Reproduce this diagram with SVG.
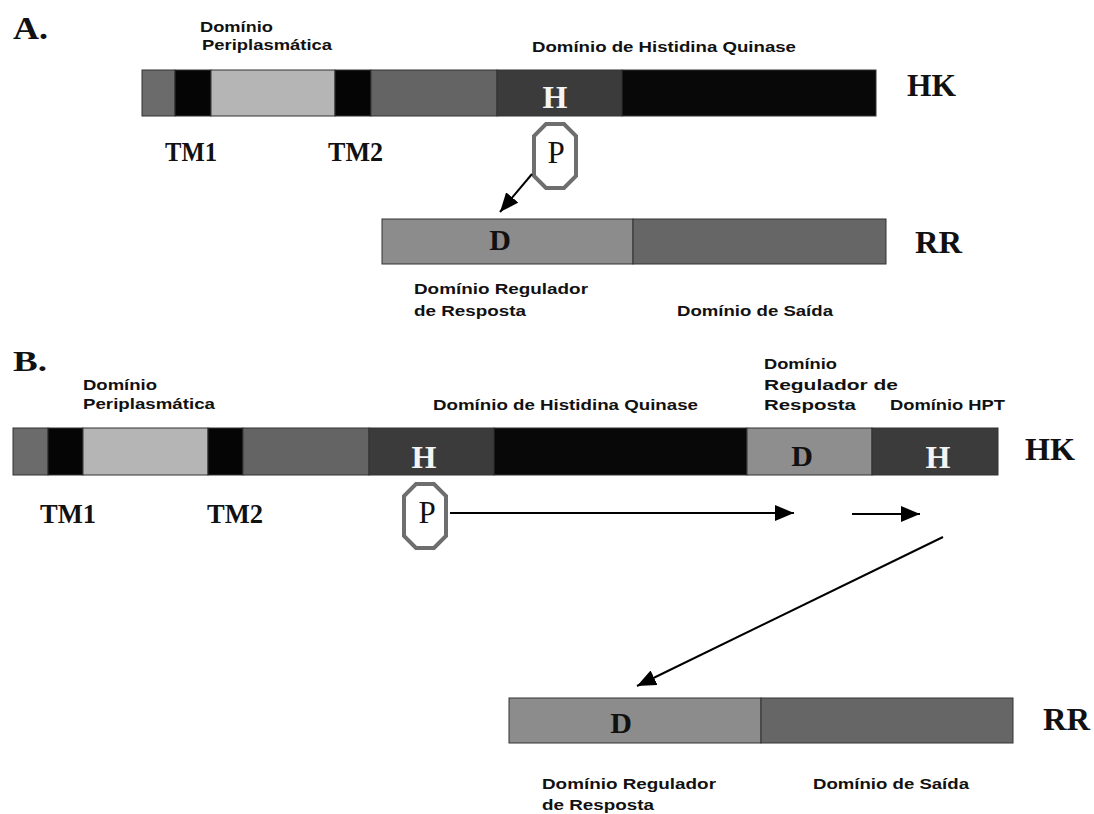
<svg xmlns="http://www.w3.org/2000/svg" width="1094" height="814" viewBox="0 0 1094 814">
<defs>
<style>
.s{font-family:"Liberation Sans",Arial,sans-serif;font-weight:bold;font-size:15.5px;fill:#111}
.t{font-family:"Liberation Serif","Times New Roman",serif;font-weight:bold;fill:#111}
.seg{stroke:#333;stroke-width:1}
.oct{fill:#fff;stroke:#6e6e6e;stroke-width:4;stroke-linejoin:miter}
.con{stroke:#000;stroke-width:2;fill:none;marker-end:url(#ah)}
</style>
<marker id="ah" viewBox="0 0 10 10" refX="10" refY="5" markerWidth="19" markerHeight="16" markerUnits="userSpaceOnUse" orient="auto" preserveAspectRatio="none">
<path d="M0,0 L10,5 L0,10 z" fill="#000"/>
</marker>
</defs>
<rect width="1094" height="814" fill="#fff"/>

<!-- Panel A -->
<text class="t" x="13" y="39" font-size="32" textLength="35" lengthAdjust="spacingAndGlyphs">A.</text>
<text class="s" x="200" y="32" textLength="73" lengthAdjust="spacingAndGlyphs">Domínio</text>
<text class="s" x="202" y="50" textLength="130" lengthAdjust="spacingAndGlyphs">Periplasmática</text>
<text class="s" x="532" y="52" textLength="264" lengthAdjust="spacingAndGlyphs">Domínio de Histidina Quinase</text>

<g id="hkA">
<rect class="seg" x="142" y="70" width="33" height="46" fill="#6b6b6b"/>
<rect class="seg" x="175" y="70" width="36" height="46" fill="#050505"/>
<rect class="seg" x="211" y="70" width="124" height="46" fill="#b5b5b5"/>
<rect class="seg" x="335" y="70" width="36" height="46" fill="#050505"/>
<rect class="seg" x="371" y="70" width="126" height="46" fill="#646464"/>
<rect class="seg" x="497" y="70" width="125" height="46" fill="#3b3b3b"/>
<rect class="seg" x="622" y="70" width="254" height="46" fill="#080808"/>
<text class="t" x="555" y="108" font-size="32" text-anchor="middle" style="fill:#f4f4f4">H</text>
</g>
<text class="t" x="907" y="96" font-size="31" textLength="49" lengthAdjust="spacingAndGlyphs">HK</text>
<text class="t" x="165" y="161" font-size="27" textLength="52" lengthAdjust="spacingAndGlyphs">TM1</text>
<text class="t" x="328" y="161" font-size="27" textLength="55" lengthAdjust="spacingAndGlyphs">TM2</text>

<g id="pA">
<polygon class="oct" points="546,124 564,124 576,136 576,176 564,188 546,188 534,176 534,136"/>
<text x="556" y="163" font-family="Liberation Serif, serif" font-size="31" text-anchor="middle" fill="#111">P</text>
</g>

<g id="rrA">
<rect class="seg" x="382" y="219" width="251" height="45" fill="#8c8c8c"/>
<rect class="seg" x="633" y="219" width="253" height="45" fill="#666666"/>
<text class="t" x="500" y="250" font-size="30" text-anchor="middle">D</text>
</g>
<text class="t" x="915" y="253" font-size="32" textLength="47" lengthAdjust="spacingAndGlyphs">RR</text>
<text class="s" x="414" y="294" textLength="174" lengthAdjust="spacingAndGlyphs">Domínio Regulador</text>
<text class="s" x="414" y="316" textLength="112" lengthAdjust="spacingAndGlyphs">de Resposta</text>
<text class="s" x="677" y="316" textLength="156" lengthAdjust="spacingAndGlyphs">Domínio de Saída</text>

<!-- Panel B -->
<text class="t" x="13" y="371" font-size="30" textLength="34" lengthAdjust="spacingAndGlyphs">B.</text>
<text class="s" x="83" y="390" textLength="74" lengthAdjust="spacingAndGlyphs">Domínio</text>
<text class="s" x="83" y="409" textLength="132" lengthAdjust="spacingAndGlyphs">Periplasmática</text>
<text class="s" x="433" y="410" textLength="265" lengthAdjust="spacingAndGlyphs">Domínio de Histidina Quinase</text>
<text class="s" x="764" y="369" textLength="73" lengthAdjust="spacingAndGlyphs">Domínio</text>
<text class="s" x="764" y="390" textLength="134" lengthAdjust="spacingAndGlyphs">Regulador de</text>
<text class="s" x="764" y="410" textLength="92" lengthAdjust="spacingAndGlyphs">Resposta</text>
<text class="s" x="890" y="410" textLength="115" lengthAdjust="spacingAndGlyphs">Domínio HPT</text>

<g id="hkB">
<rect class="seg" x="13" y="428" width="35" height="47" fill="#6b6b6b"/>
<rect class="seg" x="48" y="428" width="35" height="47" fill="#050505"/>
<rect class="seg" x="83" y="428" width="125" height="47" fill="#b5b5b5"/>
<rect class="seg" x="208" y="428" width="35" height="47" fill="#050505"/>
<rect class="seg" x="243" y="428" width="126" height="47" fill="#646464"/>
<rect class="seg" x="369" y="428" width="125" height="47" fill="#3b3b3b"/>
<rect class="seg" x="494" y="428" width="253" height="47" fill="#080808"/>
<rect class="seg" x="747" y="428" width="125" height="47" fill="#8e8e8e"/>
<rect class="seg" x="872" y="428" width="126" height="47" fill="#3b3b3b"/>
<text class="t" x="424" y="468" font-size="32" text-anchor="middle" style="fill:#f4f4f4">H</text>
<text class="t" x="802" y="466" font-size="30" text-anchor="middle">D</text>
<text class="t" x="938" y="468" font-size="32" text-anchor="middle" style="fill:#f4f4f4">H</text>
</g>
<text class="t" x="1025" y="460" font-size="31" textLength="50" lengthAdjust="spacingAndGlyphs">HK</text>
<text class="t" x="40" y="523" font-size="27" textLength="56" lengthAdjust="spacingAndGlyphs">TM1</text>
<text class="t" x="207" y="523" font-size="27" textLength="56" lengthAdjust="spacingAndGlyphs">TM2</text>

<g id="pB">
<polygon class="oct" points="416,484 434,484 446,496 446,536 434,548 416,548 404,536 404,496"/>
<text x="427" y="523" font-family="Liberation Serif, serif" font-size="31" text-anchor="middle" fill="#111">P</text>
</g>

<g id="rrB">
<rect class="seg" x="509" y="698" width="252" height="45" fill="#8c8c8c"/>
<rect class="seg" x="761" y="698" width="252" height="45" fill="#666666"/>
<text class="t" x="621" y="733" font-size="30" text-anchor="middle">D</text>
</g>
<text class="t" x="1043" y="730" font-size="32" textLength="47" lengthAdjust="spacingAndGlyphs">RR</text>
<text class="s" x="542" y="789" textLength="174" lengthAdjust="spacingAndGlyphs">Domínio Regulador</text>
<text class="s" x="542" y="810" textLength="112" lengthAdjust="spacingAndGlyphs">de Resposta</text>
<text class="s" x="813" y="789" textLength="156" lengthAdjust="spacingAndGlyphs">Domínio de Saída</text>

<g id="connectors">
<line class="con" x1="532" y1="174" x2="500" y2="212"/>
<line class="con" x1="450" y1="513" x2="794" y2="513"/>
<line class="con" x1="852" y1="514" x2="920" y2="514"/>
<line class="con" x1="943" y1="537" x2="637" y2="686"/>
</g>
</svg>
